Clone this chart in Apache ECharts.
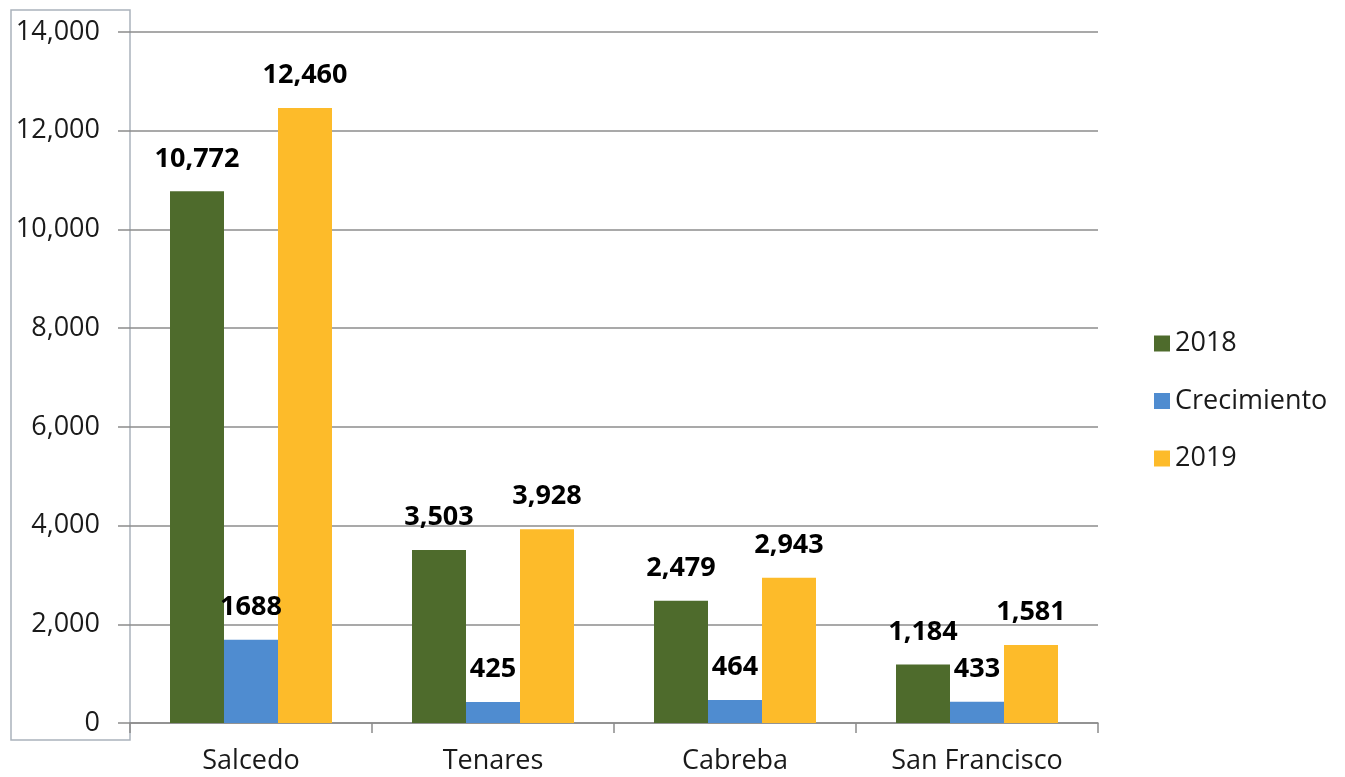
<!DOCTYPE html>
<html><head><meta charset="utf-8">
<script src="https://cdn.jsdelivr.net/npm/echarts@6/dist/echarts.min.js"></script>
<style>html,body{margin:0;padding:0;background:#fff}#c{width:1345px;height:777px}</style>
</head><body><div id="c"></div>
<script>
const categories = ['Salcedo', 'Tenares', 'Cabreba', 'San Francisco'];
const seriesNames = ['2018', 'Crecimiento', '2019'];
const values2018 = [10772, 3503, 2479, 1184];
const valuesCrecimiento = [1688, 425, 464, 433];
const values2019 = [12460, 3928, 2943, 1581];
const yTicks = [0, 2000, 4000, 6000, 8000, 10000, 12000, 14000];

const colors = ['#4E6B2C', '#4F8CD0', '#FDBB2A'];
const font = '"Open Sans", "Noto Sans", sans-serif';
const fmtNum = v => v.toLocaleString('en-US');

const chart = echarts.init(document.getElementById('c'));
function mk(name, data, color, labelFmt) {
  return {
    name, type: 'bar', data, barWidth: 54, barGap: '0%',
    itemStyle: { color },
    label: {
      show: true, position: 'top', distance: 19,
      fontFamily: font, fontSize: 27, fontWeight: 'bold', color: '#000',
      formatter: p => labelFmt(p.value)
    }
  };
}
chart.setOption({
  animation: false,
  color: colors,
  grid: { left: 130, right: 247, top: 32, bottom: 54, containLabel: false },
  legend: {
    orient: 'vertical', left: 1149, top: 325,
    itemWidth: 16, itemHeight: 16, itemGap: 30.5, icon: 'rect',
    textStyle: { fontFamily: font, fontSize: 27, color: '#1a1a1a', padding: [0, 0, 0, 0] },
    data: seriesNames
  },
  xAxis: {
    type: 'category', data: categories,
    axisLine: { lineStyle: { color: '#8c8c8c', width: 1.5 } },
    axisTick: { show: true, alignWithLabel: false, length: 10, lineStyle: { color: '#8c8c8c', width: 1.5 } },
    axisLabel: { fontFamily: font, fontSize: 27, color: '#1a1a1a', margin: 25 }
  },
  yAxis: {
    type: 'value', min: 0, max: 14000, interval: 2000,
    axisLine: { show: false },
    axisTick: { show: true, length: 12, lineStyle: { color: '#8c8c8c', width: 1.5 } },
    splitLine: { lineStyle: { color: '#8c8c8c', width: 1.5 } },
    axisLabel: { fontFamily: font, fontSize: 27, color: '#1a1a1a', margin: 30,
      formatter: v => yTicks.includes(v) ? fmtNum(v) : '' }
  },
  graphic: [{
    type: 'rect', shape: { x: 11, y: 10, width: 119, height: 730 },
    style: { fill: 'none', stroke: '#aab2bc', lineWidth: 1.5 }, silent: true
  }],
  series: [
    mk(seriesNames[0], values2018, colors[0], fmtNum),
    mk(seriesNames[1], valuesCrecimiento, colors[1], v => String(v)),
    mk(seriesNames[2], values2019, colors[2], fmtNum)
  ]
});
</script></body></html>
